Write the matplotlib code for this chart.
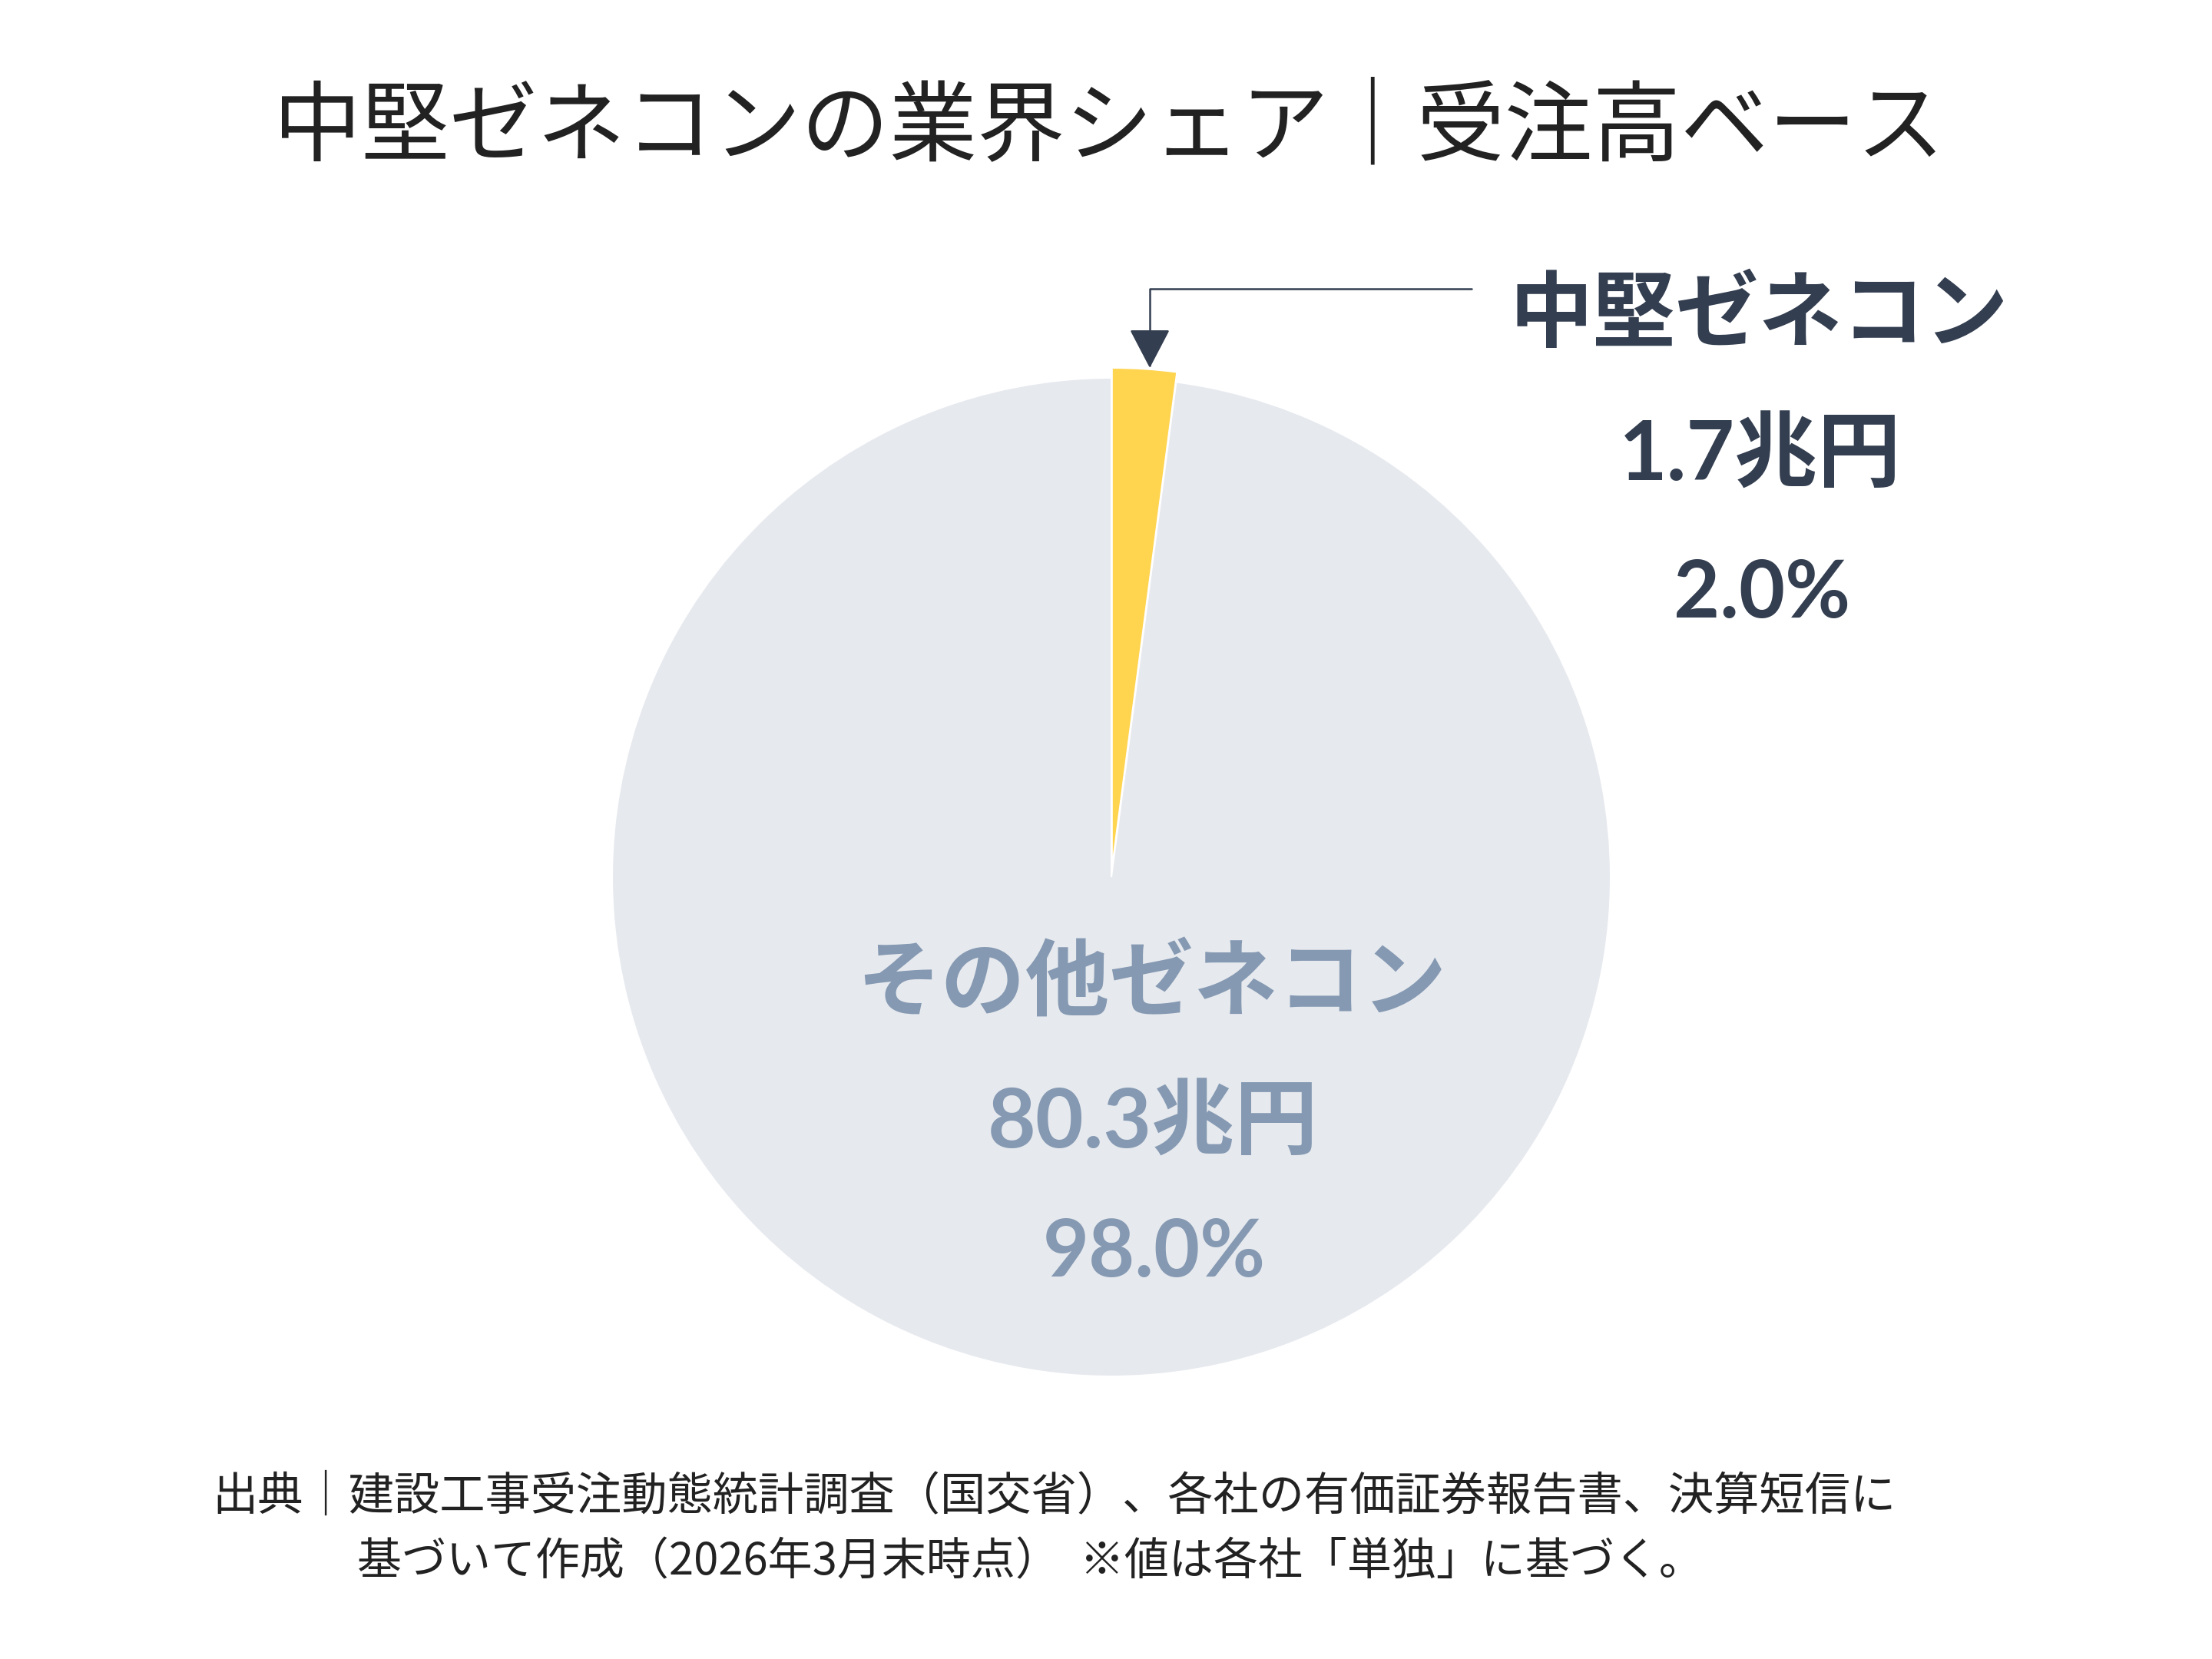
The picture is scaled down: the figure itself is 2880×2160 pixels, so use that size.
import matplotlib
matplotlib.use("Agg")
import matplotlib.pyplot as plt

plt.rcParams['font.family'] = ['Noto Sans CJK JP', 'DejaVu Sans']

# ---- data ----
title = "中堅ゼネコンの業界シェア｜受注高ベース"
categories = ["中堅ゼネコン", "その他ゼネコン"]
values = [1.7, 80.3]          # 兆円
shares = [2.0, 98.0]          # %
colors = ["#FFD44F", "#E6E9EE"]
label_colors = ["#333E50", "#8599B2"]
note_line1 = "出典｜建設工事受注動態統計調査（国交省）、各社の有価証券報告書、決算短信に"
note_line2 = "基づいて作成（2026年3月末時点）  ※値は各社「単独」に基づく。"

W, H = 2880, 2160
fig = plt.figure(figsize=(16, 12), dpi=180)
fig.patch.set_facecolor("white")

# pie geometry in pixels
cx, cy, r = 1447, 1142, 650
ax = fig.add_axes([(cx - r) / W, (H - cy - r) / H, 2 * r / W, 2 * r / H])
wedges, _ = ax.pie(values, colors=colors, startangle=90, counterclock=False,
                   explode=[0.02, 0.0], radius=1.0,
                   wedgeprops=dict(edgecolor="white", linewidth=0.8))
for w in wedges:
    w.set_clip_on(False)
ax.set_xlim(-1, 1)
ax.set_ylim(-1, 1)
ax.set_aspect("equal")
ax.axis("off")

def px(x, y):
    return x / W, 1 - y / H

def d(xp, yp):
    return ((xp - cx) / r, (cy - yp) / r)

# title
fig.text(*px(1444, 168), title, ha="center", va="center", fontsize=45.8,
         color="#222222")

# arrow from label to small slice
ax.annotate("", xy=d(1497, 479), xytext=d(1916, 376),
            arrowprops=dict(arrowstyle="-|>,head_length=0.45,head_width=0.235",
                            mutation_scale=40,
                            connectionstyle="angle,angleA=180,angleB=90,rad=0",
                            color="#333E50", linewidth=1.0,
                            shrinkA=0, shrinkB=0),
            annotation_clip=False)

num_family = ['Lato', 'Noto Sans CJK JP']

# labels for mid-size slice
lx = 2290
fig.text(*px(lx, 412), categories[0], ha="center", va="center", fontsize=43.3,
         fontweight="bold", color=label_colors[0])
fig.text(*px(lx + 2, 593), f"{values[0]}兆円", ha="center", va="center", fontsize=43.3,
         fontweight="bold", color=label_colors[0], family=num_family)
fig.text(*px(lx + 4, 774), f"{shares[0]:.1f}%", ha="center", va="center", fontsize=41.5,
         fontweight="bold", color=label_colors[0], family=num_family)

# labels for others
ox = 1499
fig.text(*px(ox, 1283), categories[1], ha="center", va="center", fontsize=43.9,
         fontweight="bold", color=label_colors[1])
fig.text(*px(ox + 2, 1462), f"{values[1]}兆円", ha="center", va="center", fontsize=43.3,
         fontweight="bold", color=label_colors[1], family=num_family)
fig.text(*px(ox + 4, 1632), f"{shares[1]:.1f}%", ha="center", va="center", fontsize=41.5,
         fontweight="bold", color=label_colors[1], family=num_family)

# footnote
fig.text(*px(276, 1949), note_line1, ha="left", va="center", fontsize=23.7,
         color="#222222")
fig.text(*px(465, 2034), note_line2, ha="left", va="center", fontsize=23.2,
         color="#222222")

fig.savefig("out.png", dpi=180, facecolor="white")
